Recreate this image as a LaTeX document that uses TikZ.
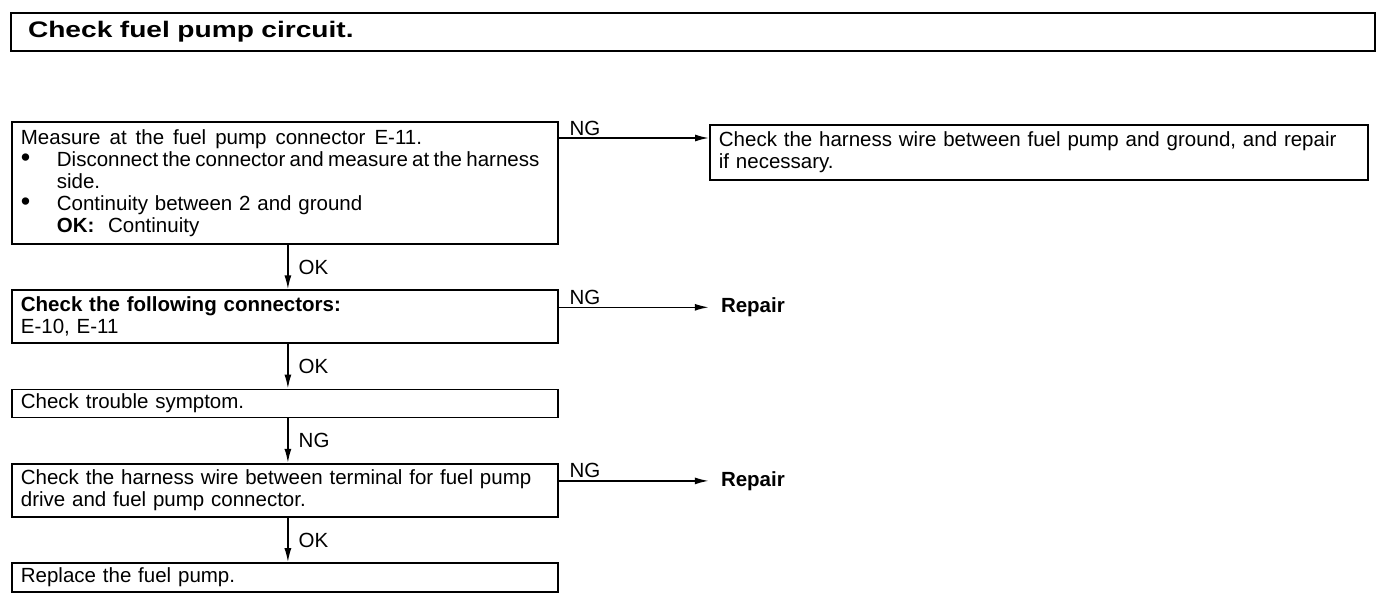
\documentclass[tikz,border=0pt]{standalone}
\usepackage{fontspec}
\setmainfont{Liberation Sans}
\newfontfamily\titlefont[FakeStretch=1.25]{Liberation Sans}
\usepackage{tikz}
\usetikzlibrary{arrows.meta, positioning, calc}
\newcommand{\bul}{\makebox[36pt][l]{\raisebox{0pt}{\fontsize{27}{20}\selectfont\textbullet}}}
\newcommand{\ind}{\hspace*{36pt}}

\begin{document}
\begin{tikzpicture}[
    node distance = 44.5pt and 150pt,
    font=\fontsize{20.5}{22}\selectfont,
    box/.style={draw, line width=1.8pt, minimum width=546pt, text width=528pt, inner xsep=9pt, inner ysep=3pt, align=left},
    fixbox/.style={draw, line width=1.8pt, minimum height=55pt, text width=640pt, inner xsep=9pt, align=left},
    result/.style={font=\fontsize{20.5}{22}\selectfont\bfseries, inner xsep=12pt},
    arrow/.style={-{Latex[length=14pt,width=7pt]}, line width=1.6pt},
    lbl/.style={inner sep=2pt}
]
\useasboundingbox (0,0) rectangle (1392pt,-594pt);

% Title
\node[draw, line width=2pt, anchor=north west, minimum height=38pt, text width=1330pt, inner xsep=17pt, align=left,
      font=\titlefont\bfseries\fontsize{22.5}{26}\selectfont] (title) at (10pt,-12pt) {Check fuel pump circuit.};

% Nodes
\node[box, minimum height=122pt, anchor=north west] (measure) at (11pt,-121pt)
    {\mbox{\spaceskip=9pt Measure at the fuel pump connector E-11.}\\
     \bul\mbox{\spaceskip=4.3pt Disconnect the connector and measure at the harness}\\
     \ind side.\\
     \bul Continuity between 2 and ground\\
     \ind\textbf{OK:}\ \ Continuity};
\node[box, minimum height=53pt, below=of measure] (conn) {\textbf{Check the following connectors:}\\ E-10, E-11};
\node[box, minimum height=28pt, below=of conn] (symptom) {Check trouble symptom.};
\node[box, minimum height=53pt, below=of symptom] (wire) {Check the harness wire between terminal for fuel pump\\ drive and fuel pump connector.};
\node[box, minimum height=29pt, below=of wire] (replace) {Replace the fuel pump.};

% NG branches
\coordinate (ng1) at ([yshift=-17pt]measure.north east);
\node[fixbox, anchor=north west] (ground) at (709pt,-124pt)
    {Check the harness wire between fuel pump and ground, and repair\\ if necessary.};
\coordinate (ng2) at ([yshift=-18pt]conn.north east);
\node[result, right=of ng2] (repair1) {Repair};
\coordinate (ng4) at ([yshift=-18pt]wire.north east);
\node[result, right=of ng4] (repair2) {Repair};

% Edges
\draw[arrow] ([xshift=3pt]measure.south) -- node[right, lbl, xshift=8pt] {OK} ([xshift=3pt]conn.north);
\draw[arrow] ([xshift=3pt]conn.south) -- node[right, lbl, xshift=8pt] {OK} ([xshift=3pt]symptom.north);
\draw[arrow] ([xshift=3pt]symptom.south) -- node[right, lbl, xshift=8pt] {NG} ([xshift=3pt]wire.north);
\draw[arrow] ([xshift=3pt]wire.south) -- node[right, lbl, xshift=8pt] {OK} ([xshift=3pt]replace.north);
\draw[arrow] (ng1) -- node[above right, lbl, pos=0, xshift=8pt] {NG} (ng1 -| ground.west);
\draw[arrow] (ng2) -- node[above right, lbl, pos=0, xshift=8pt] {NG} (repair1);
\draw[arrow] (ng4) -- node[above right, lbl, pos=0, xshift=8pt] {NG} (repair2);

\end{tikzpicture}
\end{document}
